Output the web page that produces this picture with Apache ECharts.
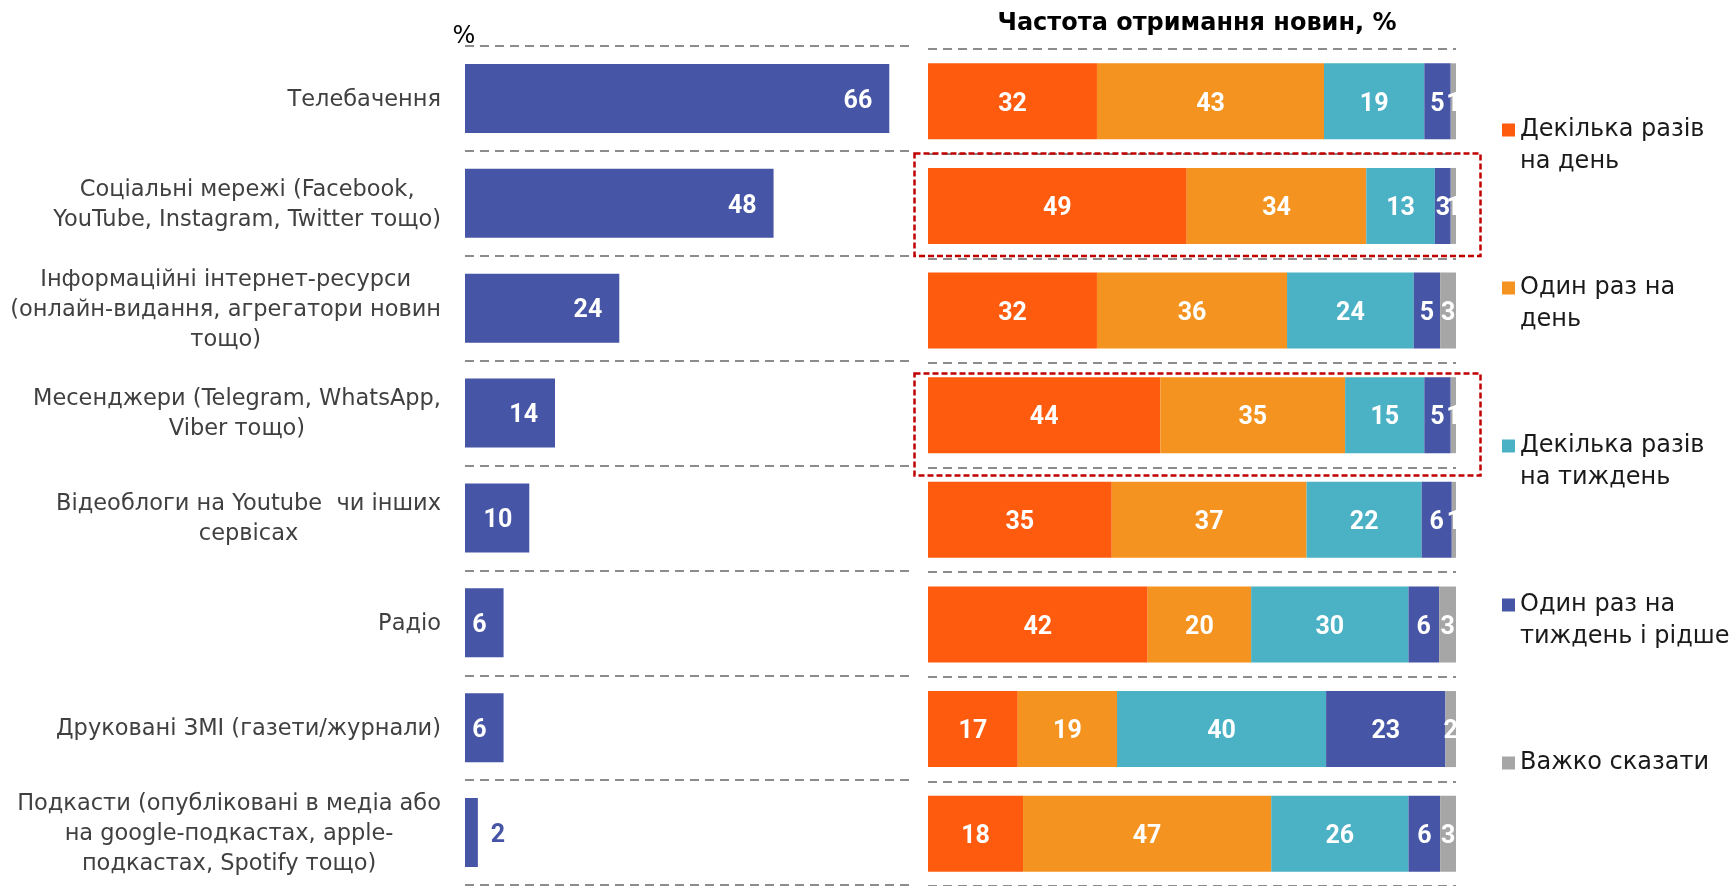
<!DOCTYPE html>
<html><head><meta charset="utf-8">
<script src="https://cdn.jsdelivr.net/npm/echarts@6/dist/echarts.min.js"></script>
<style>html,body{margin:0;padding:0;background:#fff}#c{width:1736px;height:886px}</style>
</head><body><div id="c"></div>
<script>
const categories = [
  'Телебачення',
  'Соціальні мережі (Facebook,\nYouTube, Instagram, Twitter тощо)',
  'Інформаційні інтернет-ресурси\n(онлайн-видання, агрегатори новин\nтощо)',
  'Месенджери (Telegram, WhatsApp,\nViber тощо)',
  'Відеоблоги на Youtube  чи інших\nсервісах',
  'Радіо',
  'Друковані ЗМІ (газети/журнали)',
  'Подкасти (опубліковані в медіа або\nна google-подкастах, apple-\nподкастах, Spotify тощо)'
];
const usage = [66, 48, 24, 14, 10, 6, 6, 2];
const freqNames = ['Декілька разів\nна день', 'Один раз на\nдень', 'Декілька разів\nна тиждень', 'Один раз на\nтиждень і рідше', 'Важко сказати'];
const severalPerDay  = [32, 49, 32, 44, 34.8, 41.6, 17.0, 18];
const oncePerDay     = [43, 34, 36, 35, 36.9, 19.6, 18.8, 47];
const severalPerWeek = [19, 13, 24, 15, 21.8, 29.8, 39.6, 26];
const oncePerWeek    = [5, 3, 5, 5, 5.7, 5.8, 22.6, 6];
const hardToSay      = [1, 1, 3, 1, 0.8, 3.2, 2.0, 3];
const freqSeries = [severalPerDay, oncePerDay, severalPerWeek, oncePerWeek, hardToSay];
const titleText = 'Частота отримання новин, %';

const colors = ['#FE5B0E', '#F4931F', '#4BB1C5', '#4655A5', '#A6A6A6'];
const navy = '#4655A5';
const catFont = 'DejaVu Sans';
const numFont = 'Roboto';

const chart = echarts.init(document.getElementById('c'));

const dashLine = { color: '#8c8c8c', width: 2, type: [9, 6] };

const leftData = usage.map(v => v >= 5 ? v : {
  value: v,
  label: { position: 'right', color: navy, distance: 13 }
});

const legendTops = [114, 272, 430, 589, 747];

const option = {
  animation: false,
  backgroundColor: '#fff',
  grid: [
    { left: 465, width: 450, top: 46, height: 839 },
    { left: 928, width: 528, top: 49, height: 842 }
  ],
  xAxis: [
    { type: 'value', gridIndex: 0, min: 0, max: 70, show: false },
    { type: 'value', gridIndex: 1, min: 0, max: 100, show: false }
  ],
  yAxis: [
    {
      type: 'category', gridIndex: 0, data: categories, inverse: true,
      axisLine: { show: false }, axisTick: { show: false },
      splitLine: { show: true, interval: 0, lineStyle: dashLine },
      axisLabel: {
        margin: 24, interval: 0, align: 'right',
        formatter: v => v.split('\n').map(l => '{c|' + l + '}').join('\n'),
        rich: { c: { align: 'center', fontFamily: catFont, fontSize: 22.5, lineHeight: 30, color: '#404040', padding: [3, 0, 0, 0] } }
      }
    },
    {
      type: 'category', gridIndex: 1, data: categories, inverse: true,
      axisLine: { show: false }, axisTick: { show: false }, axisLabel: { show: false },
      splitLine: { show: true, interval: 0, lineStyle: dashLine }
    }
  ],
  legend: freqNames.map((n, i) => ({
    data: [{ name: n, icon: i < 4 ? 'path://M0,0L13,0L13,13L0,13Z M0,45' : 'rect' }],
    left: 1502, top: legendTops[i], orient: 'vertical', padding: 0,
    itemWidth: 13, itemHeight: i < 4 ? 45 : 13, selectedMode: false,
    textStyle: { fontFamily: catFont, fontSize: 24, lineHeight: 32, color: '#1a1a1a' }
  })),
  series: [
    {
      type: 'bar', name: 'usage', xAxisIndex: 0, yAxisIndex: 0, data: leftData,
      barWidth: 69, itemStyle: { color: navy },
      label: {
        show: true, position: 'insideRight', distance: 17, offset: [0, 3], color: '#fff',
        fontFamily: numFont, fontWeight: 'bold', fontSize: 25
      }
    }
  ].concat(freqSeries.map((arr, i) => ({
    type: 'bar', name: freqNames[i], xAxisIndex: 1, yAxisIndex: 1, stack: 'freq',
    data: arr, barWidth: 76, itemStyle: { color: colors[i] },
    label: {
      show: true, position: 'inside', offset: [0, 3], color: '#fff',
      fontFamily: numFont, fontWeight: 'bold', fontSize: 25,
      formatter: p => Math.round(p.value)
    }
  }))),
  graphic: [
    { type: 'text', x: 464, y: 37, z: 100, style: { text: '%', align: 'center', verticalAlign: 'middle', font: '24px "DejaVu Sans"', fill: '#000' } },
    { type: 'text', x: 1197, y: 24, z: 100, style: { text: titleText, align: 'center', verticalAlign: 'middle', font: 'bold 24px "DejaVu Sans"', fill: '#000' } },
    { type: 'rect', z: 100, shape: { x: 914.5, y: 153.5, width: 566, height: 102.5 }, style: { fill: 'none', stroke: '#C00000', lineWidth: 2.5, lineDash: [6, 3] } },
    { type: 'rect', z: 100, shape: { x: 914.5, y: 373.5, width: 566, height: 102 }, style: { fill: 'none', stroke: '#C00000', lineWidth: 2.5, lineDash: [6, 3] } }
  ]
};
chart.setOption(option);
</script>
</body></html>
